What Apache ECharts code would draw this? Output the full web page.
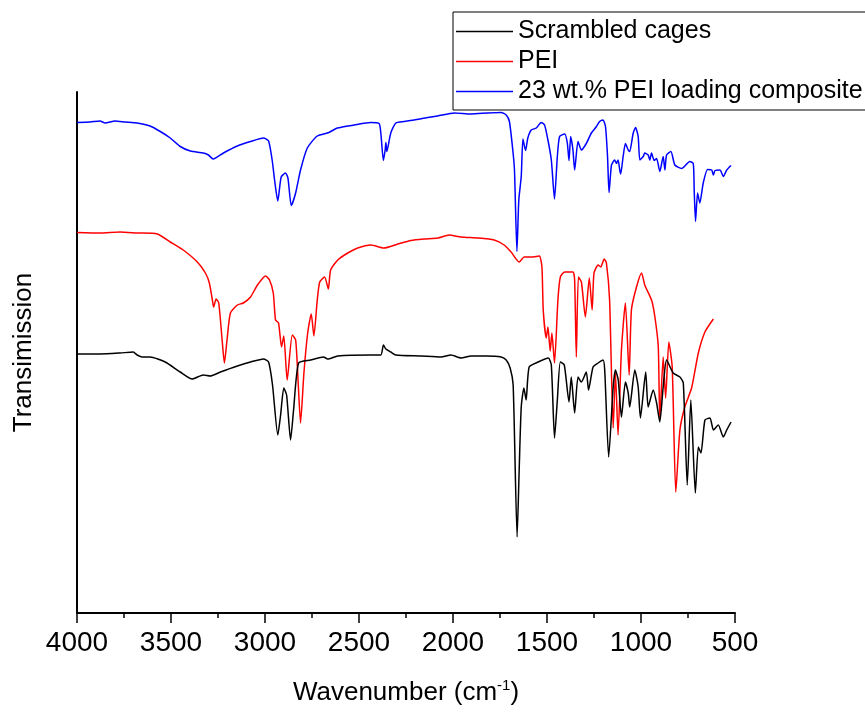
<!DOCTYPE html>
<html>
<head>
<meta charset="utf-8">
<script src="https://cdn.jsdelivr.net/npm/echarts@6/dist/echarts.min.js"></script>
<style>
  html, body { margin: 0; padding: 0; background: #fff; }
  #chart { width: 865px; height: 714px; }
</style>
</head>
<body>
<div id="chart"></div>
<script>
// FTIR spectra, [wavenumber (cm-1), transmission (offset, a.u.)]
const scrambledCages = [
  [4000,51.4],[3877,51.4],[3771,51.6],[3701,51.8],[3680,51.2],[3653,50.8],[3611,50.8],[3531,49.8],
  [3451,47.8],[3387,46.4],[3328,47.2],[3291,47.0],[3237,47.8],[3147,49.0],[3077,49.8],[3008,50.4],
  [2981,49.8],[2960,45.2],[2932,35.2],[2917,39.2],[2900,44.6],[2885,43.2],[2864,34.2],[2848,40.2],
  [2821,49.6],[2757,50.2],[2688,50.8],[2667,50.4],[2613,51.0],[2437,51.2],[2384,51.2],[2370,53.2],
  [2357,52.4],[2331,51.8],[2304,51.2],[2171,51.0],[2064,50.8],[2011,51.2],[1957,50.6],[1904,51.0],
  [1824,51.0],[1744,50.8],[1717,50.2],[1696,48.6],[1680,45.2],[1659,14.8],[1648,28.2],[1637,40.8],
  [1623,44.6],[1611,42.2],[1595,48.8],[1547,49.8],[1493,50.6],[1477,49.2],[1460,34.6],[1445,42.2],
  [1429,49.8],[1408,49.2],[1383,41.8],[1371,46.8],[1353,39.6],[1335,46.8],[1317,45.8],[1291,47.8],
  [1279,44.2],[1255,48.8],[1228,49.6],[1202,50.2],[1193,48.2],[1172,30.8],[1148,44.8],[1136,48.2],
  [1121,46.2],[1104,38.8],[1083,45.8],[1068,43.6],[1060,40.8],[1033,48.2],[1015,44.8],[1003,38.6],
  [975,47.8],[962,40.8],[935,44.2],[917,41.6],[900,37.8],[882,44.8],[864,50.2],[829,47.6],
  [793,46.8],[775,45.6],[754,25.2],[735,42.2],[711,23.6],[695,32.8],[681,31.6],[660,38.2],
  [633,38.6],[615,36.2],[589,37.2],[562,34.8],[544,36.2],[521,37.8]
];

const pei = [
  [4000,75.7],[3877,75.6],[3771,75.8],[3680,75.6],[3573,75.4],[3504,73.8],[3435,72.2],[3360,69.8],
  [3317,67.6],[3296,65.6],[3280,62.2],[3273,60.8],[3260,62.4],[3246,61.6],[3228,54.2],[3216,49.6],
  [3202,54.2],[3184,59.6],[3147,61.2],[3115,61.6],[3077,62.8],[3040,65.2],[2997,67.0],[2976,66.2],
  [2956,63.6],[2944,58.2],[2928,57.6],[2912,52.8],[2900,55.0],[2882,46.2],[2855,55.2],[2837,54.2],
  [2825,46.8],[2811,37.6],[2793,47.6],[2773,55.6],[2754,59.4],[2740,55.0],[2722,62.2],[2709,65.8],
  [2683,66.8],[2663,64.4],[2651,68.2],[2613,70.2],[2560,71.6],[2507,72.6],[2437,73.2],[2368,72.6],
  [2293,73.4],[2224,74.1],[2155,74.4],[2080,74.6],[2021,75.2],[1957,74.8],[1867,74.6],[1781,74.2],
  [1728,73.2],[1691,71.8],[1648,69.8],[1621,70.8],[1584,70.8],[1541,71.0],[1527,68.8],[1520,60.2],
  [1504,54.6],[1495,56.8],[1483,52.0],[1474,55.6],[1460,49.6],[1442,62.2],[1429,66.8],[1406,67.8],
  [1362,67.8],[1353,66.2],[1344,50.8],[1333,66.8],[1317,65.8],[1296,58.8],[1275,66.6],[1260,60.2],
  [1250,67.6],[1228,69.2],[1214,68.8],[1196,70.4],[1184,69.6],[1167,62.2],[1148,36.6],[1136,47.6],
  [1122,35.2],[1104,52.2],[1083,61.6],[1063,47.2],[1051,60.2],[1024,64.8],[997,67.6],[980,65.2],
  [944,62.2],[926,58.8],[908,52.8],[900,38.2],[882,50.8],[869,42.6],[852,53.8],[834,48.8],
  [815,23.8],[793,36.2],[767,40.8],[731,44.6],[695,51.6],[660,55.8],[615,58.4]
];

const composite = [
  [4000,97.7],[3931,97.8],[3877,98.0],[3851,97.6],[3797,98.0],[3744,97.8],[3680,97.6],[3611,97.0],
  [3557,95.9],[3504,94.6],[3451,92.9],[3397,92.0],[3328,91.6],[3301,91.2],[3276,90.4],[3221,91.6],
  [3147,93.0],[3077,93.9],[3008,94.6],[2981,94.0],[2962,90.2],[2949,86.2],[2932,82.0],[2914,86.8],
  [2891,87.6],[2878,86.6],[2860,81.1],[2837,83.6],[2811,88.2],[2775,92.6],[2722,95.0],[2660,95.7],
  [2615,96.6],[2526,97.2],[2437,97.7],[2393,97.5],[2384,95.6],[2370,90.1],[2361,92.2],[2357,93.7],
  [2352,91.9],[2331,95.6],[2304,97.6],[2260,97.9],[2206,98.2],[2135,98.7],[2082,99.0],[1993,99.6],
  [1904,99.4],[1815,99.6],[1744,99.7],[1717,99.2],[1700,97.9],[1682,92.2],[1673,88.2],[1660,71.9],
  [1650,82.2],[1637,86.9],[1628,94.4],[1614,92.1],[1602,94.6],[1584,96.2],[1557,96.6],[1531,97.7],
  [1513,97.2],[1495,94.2],[1477,90.2],[1460,82.4],[1445,90.9],[1433,94.9],[1406,95.4],[1392,93.6],
  [1383,90.1],[1374,94.9],[1362,92.2],[1353,88.2],[1335,93.9],[1317,92.2],[1291,93.5],[1264,95.6],
  [1237,96.9],[1220,97.9],[1202,98.2],[1189,96.9],[1178,90.9],[1170,83.7],[1157,89.2],[1140,90.2],
  [1131,89.5],[1122,90.2],[1113,88.2],[1108,87.4],[1095,90.9],[1083,93.5],[1068,92.2],[1060,91.9],
  [1042,95.5],[1029,96.7],[1015,94.9],[1006,90.2],[988,90.9],[980,91.6],[962,91.2],[953,90.2],
  [944,91.6],[930,90.1],[917,90.5],[900,87.9],[882,90.9],[873,88.2],[864,91.2],[841,91.9],
  [820,89.2],[784,88.5],[740,89.9],[722,89.5],[717,84.2],[710,77.9],[699,83.6],[687,81.6],
  [669,85.6],[646,88.3],[624,88.2],[615,87.2],[606,88.1],[580,88.2],[562,86.9],[544,88.2],[521,89.1]
];

const seriesNames = ['Scrambled cages', 'PEI', '23 wt.% PEI loading composite'];
const seriesColors = ['#000000', '#ff0000', '#0000ff'];
const seriesData = [scrambledCages, pei, composite];

const FONT = "'Liberation Sans', Arial, sans-serif";

const chart = echarts.init(document.getElementById('chart'), null, { renderer: 'canvas' });

chart.setOption({
  animation: false,
  backgroundColor: '#ffffff',
  grid: { left: 77, right: 130, top: 92, bottom: 101, containLabel: false },
  legend: {
    left: 453,
    top: 12,
    orient: 'vertical',
    itemWidth: 57,
    itemHeight: 1.5,
    itemGap: 5,
    icon: 'rect',
    padding: [7, 3, 6, 3],
    borderColor: '#000',
    borderWidth: 1,
    textStyle: { fontFamily: FONT, fontSize: 25, color: '#000' },
    data: seriesNames
  },
  xAxis: {
    type: 'value',
    inverse: true,
    min: 500,
    max: 4000,
    interval: 500,
    name: 'Wavenumber (cm{sup|-1})',
    nameLocation: 'middle',
    nameGap: 65,
    nameTextStyle: {
      fontFamily: FONT, fontSize: 26, color: '#000',
      rich: { sup: { fontFamily: FONT, fontSize: 15, color: '#000', padding: [0, 0, 14, 0] } }
    },
    axisLine: { show: true, onZero: false, lineStyle: { color: '#000', width: 2 } },
    axisTick: { show: true, inside: false, length: 10, lineStyle: { color: '#000', width: 1.5 } },
    minorTick: { show: true, splitNumber: 2, length: 5, lineStyle: { color: '#000', width: 1.5 } },
    axisLabel: {
      fontFamily: FONT, fontSize: 28, color: '#000', margin: 16,
      formatter: (v) => String(v)
    },
    splitLine: { show: false }
  },
  yAxis: {
    type: 'value',
    min: -0.4,
    max: 103.8,
    name: 'Transimission',
    nameLocation: 'middle',
    nameGap: 40,
    nameTextStyle: { fontFamily: FONT, fontSize: 26, color: '#000' },
    axisLine: { show: true, lineStyle: { color: '#000', width: 2 } },
    axisTick: { show: false },
    axisLabel: { show: false },
    splitLine: { show: false }
  },
  series: seriesNames.map((name, i) => ({
    name: name,
    type: 'line',
    data: seriesData[i],
    showSymbol: false,
    symbol: 'none',
    smooth: 0.2,
    lineStyle: { color: seriesColors[i], width: 1.5 },
    itemStyle: { color: seriesColors[i] },
    z: 3 - i
  }))
});
</script>
</body>
</html>
